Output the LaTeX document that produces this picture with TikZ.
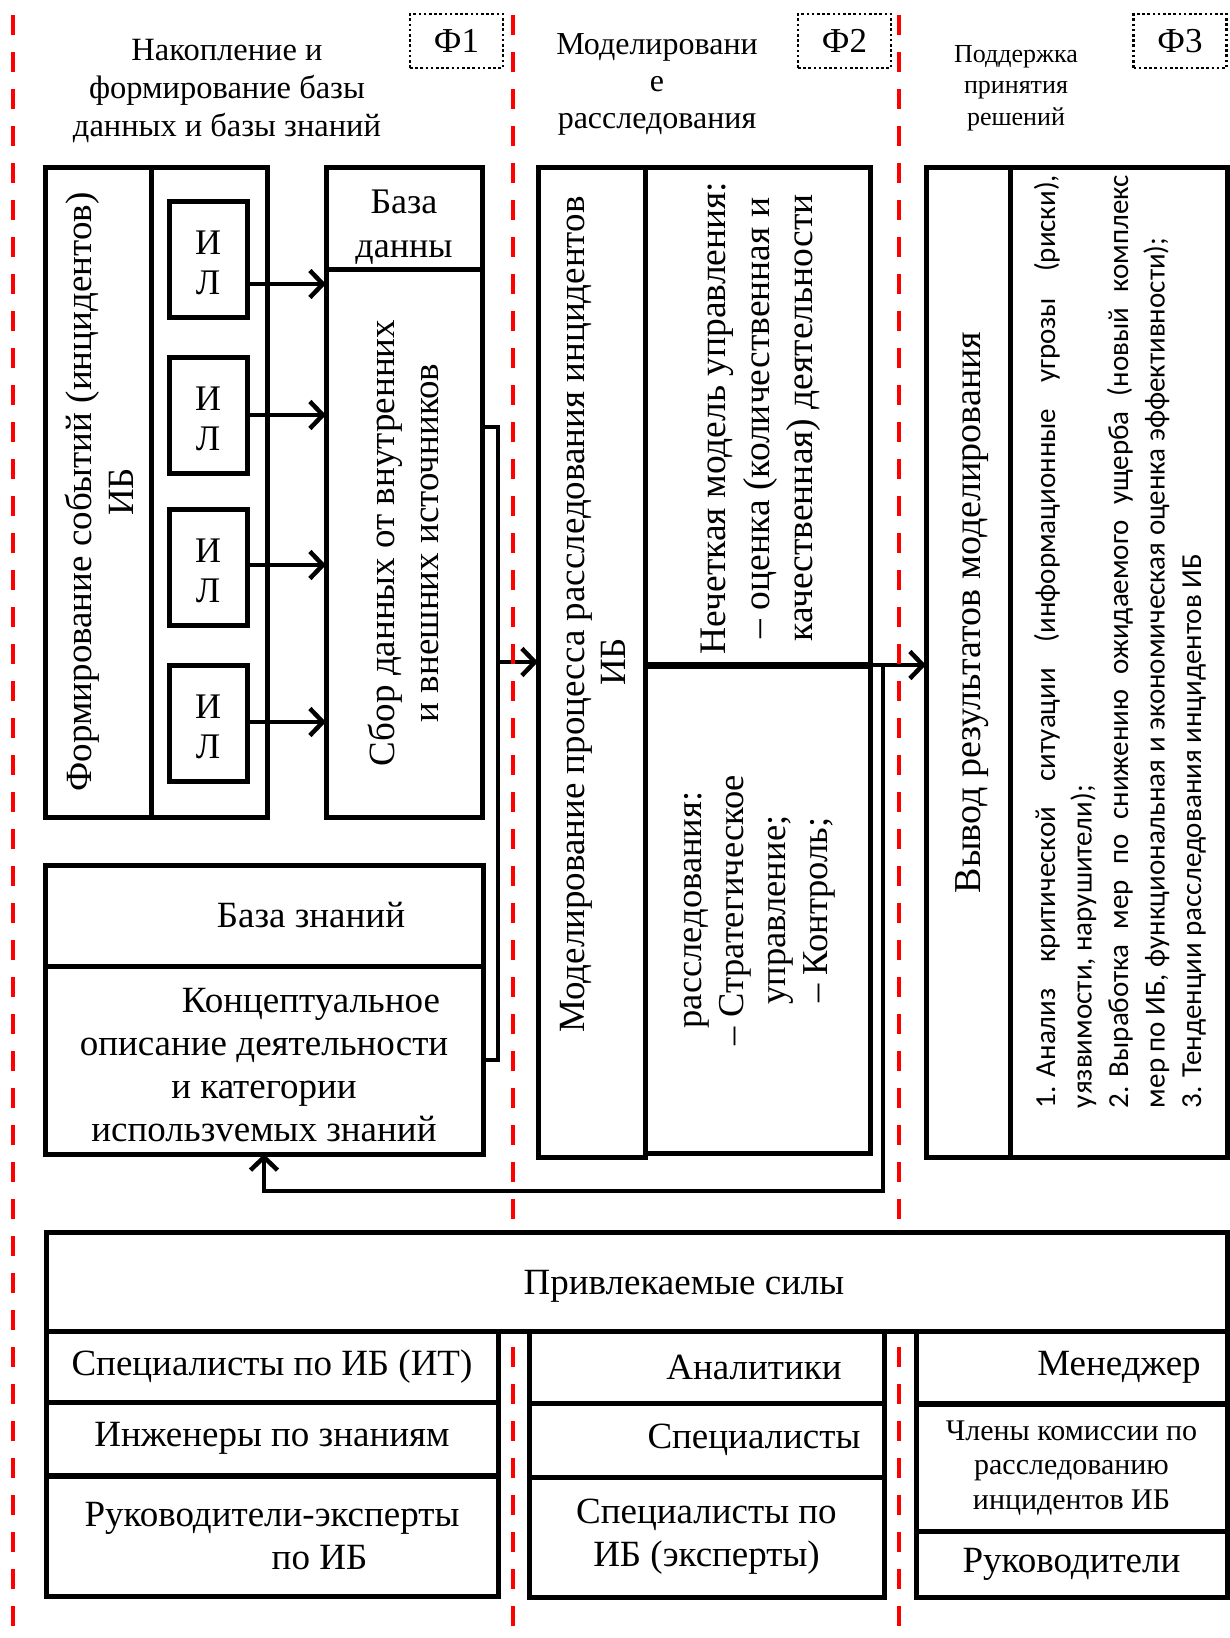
\documentclass[tikz,border=0pt]{standalone}
\usepackage{fontspec}
\setmainfont{Liberation Serif}
\newfontfamily\calf{Carlito}
\usetikzlibrary{arrows.meta,calc}
\newcommand\myfs[2]{\fontsize{#1}{#2}\selectfont}
\begin{document}
\begin{tikzpicture}[x=1pt,y=-1pt,
  box/.style={draw,line width=5pt,inner sep=0pt,outer sep=0pt,fill=white,font=\myfs{37}{43}},
  phbox/.style={draw,line width=2.5pt,dash pattern=on 2.6pt off 2.6pt,inner sep=0pt,outer sep=0pt,minimum width=93pt,minimum height=54pt,font=\myfs{35}{40}},
  txt/.style={inner sep=0pt,outer sep=0pt,align=center},
  conn/.style={line width=4.5pt},
  arr/.style={line width=4.5pt,-{Straight Barb[length=13pt,width=27pt]}},
  redl/.style={red,line width=4.5pt,dash pattern=on 20pt off 17pt},
]
\useasboundingbox (0,0) rectangle (1230,1638);
\fill[white] (0,0) rectangle (1230,1638);

% titles
\node[txt,font=\myfs{32.5}{37.5}] (tA) at (227,91) {Накопление и\\формирование базы\\данных и базы знаний};
\node[txt,font=\myfs{32}{37}] (tB) at (657,84) {Моделировани\\е\\расследования};
\node[txt,font=\myfs{26}{31.5}] (tC) at (1016,88) {Поддержка\\принятия\\решений};
\node[phbox] (f1) at (456.5,41) {Ф1};
\node[phbox] (f2) at (844.5,41) {Ф2};
\node[phbox] (f3) at (1180,41) {Ф3};

% F1 blocks
\node[box,minimum width=106,minimum height=650] (fa) at (98,492) {};
\node[box,minimum width=116,minimum height=650] (fb) at (209,492) {};
\node[txt,rotate=90,font=\myfs{37}{42}] (fat) at (99,492) {Формирование событий (инцидентов)\\ИБ};
\foreach \i/\y in {1/259,2/415,3/567,4/723}{
  \node[box,minimum width=78,minimum height=116] (il\i) at (208,\y) {};
  \node[txt,font=\myfs{36}{40}] (ilt\i) at (208,\y+4) {И\\Л};
}
\node[box,minimum width=156,minimum height=102] (sbh) at (404,218) {};
\node[txt,font=\myfs{36}{44}] (sbht) at (404,227) {База\\данны};
\node[box,minimum width=156,minimum height=548] (sbb) at (404,543) {};
\node[txt,rotate=90,font=\myfs{37}{44}] (sbt) at (403,543) {Сбор данных от внутренних\\и внешних источников};
\node[box,minimum width=438,minimum height=101] (kbh) at (264,915.5) {\hspace*{94pt}База знаний};
\node[box,minimum width=438,minimum height=188] (kbb) at (264,1060) {};
\node[txt,font=\myfs{37}{43}] (kbbt) at (264,1065) {\hspace*{94pt}Концептуальное\\описание деятельности\\и категории\\использvемых знаний};

% F2 blocks
\node[box,minimum width=107,minimum height=990] (m1) at (591.5,662) {};
\node[txt,rotate=90,font=\myfs{37}{41}] (m1t) at (593,662) {\hspace*{95pt}Моделирование процесса расследования инцидентов\\ИБ};
\node[box,minimum width=225,minimum height=498] (m2) at (757.5,416) {};
\node[box,minimum width=225,minimum height=488] (m3) at (757.5,909) {};
\draw[line width=7pt] (m2.south west) -- (m2.south east);
\node[txt,rotate=90,font=\myfs{37.5}{43.5}] (m2t) at (761,418) {Нечеткая модель управления:\\– оценка (количественная и\\качественная) деятельности};
\node[txt,rotate=90,font=\myfs{36.5}{42}] (m3t) at (760,910) {расследования:\\– Стратегическое\\управление;\\– Контроль;};

% F3 blocks
\node[box,minimum width=84,minimum height=990] (v1) at (968,662) {};
\node[txt,rotate=90,font=\myfs{38}{42}] (v1t) at (972,660) {\hspace*{95pt}Вывод результатов моделирования};
\node[box,minimum width=217,minimum height=990] (v2) at (1118.5,662) {};
\node[txt,rotate=90,anchor=west,align=left,font=\calf\myfs{29}{36.5}] (v2t) at (1120,1108) {\makebox[933pt][s]{\mbox{1. Анализ} критической ситуации (информационные угрозы (риски),}\\уязвимости, нарушители);\\\makebox[933pt][s]{\mbox{2. Выработка} мер по снижению ожидаемого ущерба (новый комплекс}\\мер по ИБ, функциональная и экономическая оценка эффективности);\\3. Тенденции расследования инцидентов ИБ};

% connectors
\coordinate (p1) at ($(sbb.north east)+(0,158)$);
\coordinate (p2) at ($(p1)+(16,0)$);
\draw[conn] (p1) -- (p2) -- (p2 |- kbb.east) -- (kbb.east);
\draw[arr] (p2 |- m1.west) -- (m1.west);
\foreach \i/\d in {1/25,2/0,3/-2,4/-1} {
  \coordinate (a\i) at ($(il\i.east)+(0,\d)$);
  \draw[arr] (a\i) -- (a\i -| sbb.west);
}
\draw[arr] (m2.south east) -- (m2.south east -| v1.west);
\coordinate (q1) at ($(m2.south east)+(13,0)$);
\coordinate (q2) at ($(q1)+(0,526)$);
\draw[arr] (q1) -- (q2) -- (q2 -| kbb.south) -- (kbb.south);

% red dashed lines
\foreach \x in {13,513,899} \draw[redl] (\x,15) -- (\x,1638);

% bottom
\node[box,minimum width=1181,minimum height=99] (pr) at (636.5,1281.5) {};
\node[txt,font=\myfs{37}{43}] (prt) at (636.5,1286) {\hspace*{95pt}Привлекаемые силы};
\node[box,minimum width=452,minimum height=71] (l1) at (272,1366.5) {Специалисты по ИБ (ИТ)};
\node[box,minimum width=452,minimum height=73] (l2) at (272,1438.5) {Инженеры по знаниям};
\node[box,minimum width=452,minimum height=120,align=center] (l3) at (272,1536) {Руководители-эксперты\\\hspace*{95pt}по ИБ};
\node[box,minimum width=355,minimum height=72] (c1) at (706.5,1367) {\hspace*{95pt}Аналитики};
\node[box,minimum width=355,minimum height=74] (c2) at (706.5,1440) {\hspace*{95pt}Специалисты};
\node[box,minimum width=355,minimum height=120,align=center] (c3) at (706.5,1537) {Специалисты по\\ИБ (эксперты)};
\node[box,minimum width=311,minimum height=72] (r1) at (1071.5,1367) {\hspace*{95pt}Менеджер};
\node[box,minimum width=311,minimum height=127,align=center,font=\myfs{30}{34.5}] (r2) at (1071.5,1468) {Члены комиссии по\\расследованию\\инцидентов ИБ};
\node[box,minimum width=311,minimum height=66] (r3) at (1071.5,1564) {Руководители};
\end{tikzpicture}
\end{document}
